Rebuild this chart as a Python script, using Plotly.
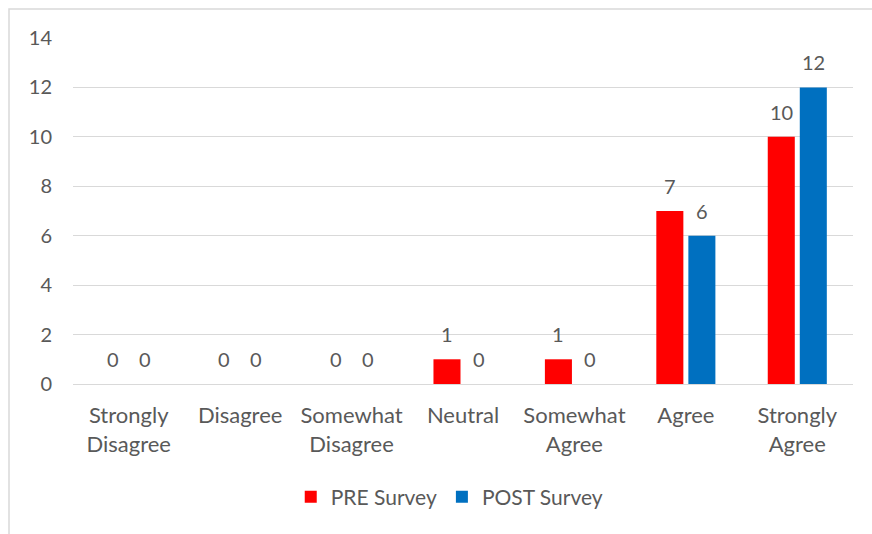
import plotly.graph_objects as go

categories = ["Strongly<br>Disagree", "Disagree", "Somewhat<br>Disagree", "Neutral",
              "Somewhat<br>Agree", "Agree", "Strongly<br>Agree"]
pre_survey = [0, 0, 0, 1, 1, 7, 10]
post_survey = [0, 0, 0, 0, 0, 6, 12]
y_ticks = [0, 2, 4, 6, 8, 10, 12, 14]

PRE_COLOR = "#FF0000"
POST_COLOR = "#0070C0"
TEXT_COLOR = "#595959"
GRID_COLOR = "#D9D9D9"
FONT = "Lato, 'Open Sans', sans-serif"
NUM_SIZE = 20
CAT_SIZE = 22
LEGEND_SIZE = 21

W, H = 872, 534
ML, MR, MT, MB = 73, 19, 38, 150

fig = go.Figure()
fig.add_trace(go.Bar(name="PRE Survey", x=categories, y=pre_survey,
                     marker=dict(color=PRE_COLOR, line=dict(width=0))))
fig.add_trace(go.Bar(name="POST Survey", x=categories, y=post_survey,
                     marker=dict(color=POST_COLOR, line=dict(width=0))))

# value labels above each bar
for vals, shift in ((pre_survey, -16), (post_survey, 16)):
    for cat, v in zip(categories, vals):
        fig.add_annotation(x=cat, y=v, text=str(v), showarrow=False,
                           xshift=shift, yanchor="bottom", yshift=11,
                           font=dict(family=FONT, size=NUM_SIZE, color=TEXT_COLOR))

# outer chart border (left and top edges visible)
pw, ph = W - ML - MR, H - MT - MB
fig.add_shape(type="rect", xref="paper", yref="paper",
              x0=(9 - ML) / pw, x1=(W + 20 - ML) / pw,
              y0=(H - MB - (H + 20)) / ph, y1=(H - MB - 9) / ph,
              line=dict(color=GRID_COLOR, width=1.5), layer="below")

fig.update_layout(
    width=W, height=H,
    margin=dict(l=ML, r=MR, t=MT, b=MB),
    paper_bgcolor="white", plot_bgcolor="white",
    barmode="group", bargap=0.425, bargroupgap=0.156,
    font=dict(family=FONT, size=NUM_SIZE, color=TEXT_COLOR),
    showlegend=True,
    legend=dict(orientation="h", x=0.483, xanchor="center",
                y=(H - MB - 497) / ph, yanchor="middle",
                font=dict(family=FONT, size=LEGEND_SIZE, color=TEXT_COLOR),
                itemwidth=30, traceorder="normal"),
    xaxis=dict(showgrid=False, showline=False, ticks="", ticklabelstandoff=16,
               tickfont=dict(size=CAT_SIZE)),
    yaxis=dict(range=[0, 14], tickvals=y_ticks, showgrid=True, gridcolor=GRID_COLOR,
               gridwidth=1.3, zeroline=True, zerolinecolor=GRID_COLOR, zerolinewidth=1.3,
               showline=False, ticks="", ticklabelstandoff=20,
               tickfont=dict(size=NUM_SIZE)),
)

fig.write_html("out.html")
